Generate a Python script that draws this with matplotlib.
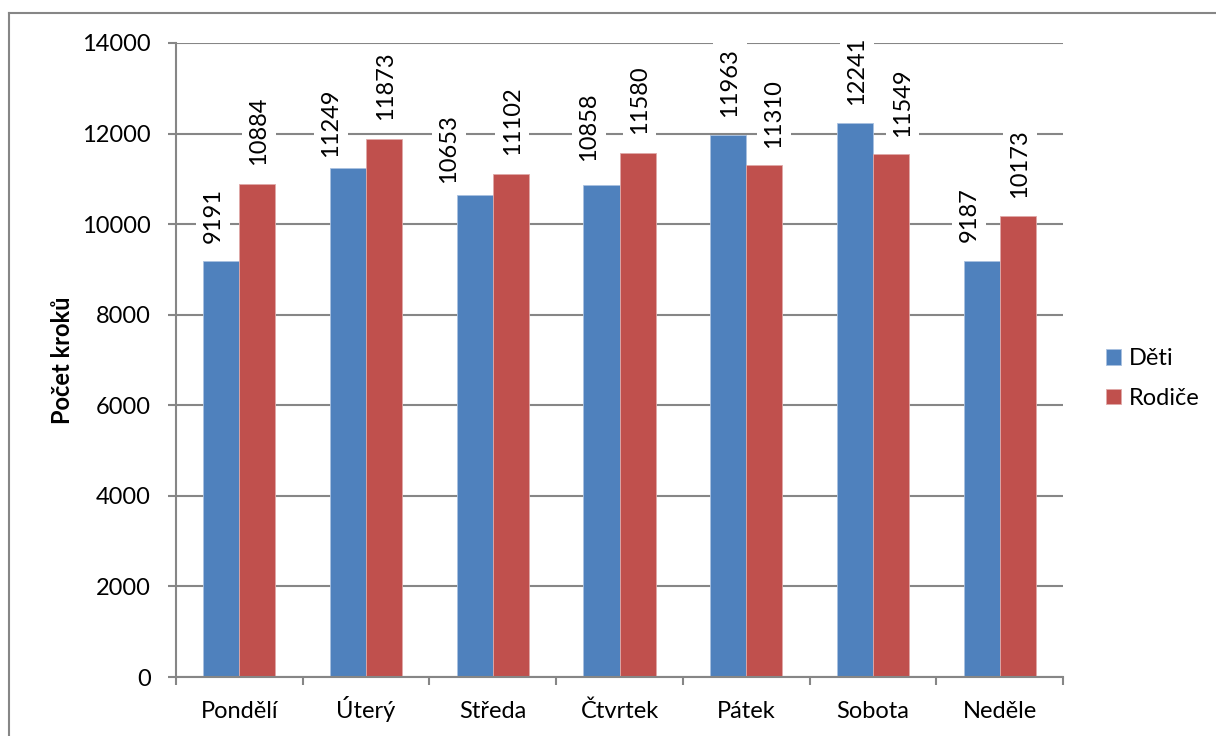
import matplotlib
matplotlib.use("Agg")
import matplotlib.pyplot as plt
from matplotlib.lines import Line2D
import matplotlib.transforms as mtransforms
import numpy as np

days = ["Pondělí", "Úterý", "Středa", "Čtvrtek", "Pátek", "Sobota", "Neděle"]
deti = [9191, 11249, 10653, 10858, 11963, 12241, 9187]
rodice = [10884, 11873, 11102, 11580, 11310, 11549, 10173]
series_names = ["Děti", "Rodiče"]
y_ticks = [0, 2000, 4000, 6000, 8000, 10000, 12000, 14000]

# label placement tweaks (pixels): (dx, gap above bar)
deti_lbl_off = [(-8.5, 18), (-17, 11), (-26, 12), (-12.5, 24), (1.5, 18), (2, 18), (-12.5, 19)]
rodice_lbl_off = [(1.5, 19), (1, 19), (1.5, 19), (2, 19), (9.5, 17), (11.5, 17), (2, 18)]

plt.rcParams['font.family'] = ['Lato', 'DejaVu Sans']
FS = 17

W, H = 1216, 736
fig = plt.figure(figsize=(W/100, H/100), dpi=100)
ax = fig.add_axes([176/W, 1-677/H, (1063-176)/W, (677-43)/H])

gray = '#868686'
blue = '#4F81BD'
red = '#C0504D'

x = np.arange(len(days))
bw = 0.285
b1 = ax.bar(x - bw/2, deti, bw, color=blue, zorder=2, edgecolor='#a9c1e0', linewidth=0.6, label=series_names[0])
b2 = ax.bar(x + bw/2, rodice, bw, color=red, zorder=2, edgecolor='#e0a9a8', linewidth=0.6, label=series_names[1])

for bars, vals, offs in ((b1, deti, deti_lbl_off), (b2, rodice, rodice_lbl_off)):
    for rect, v, (dx, gap) in zip(bars, vals, offs):
        ax.annotate(str(v), (rect.get_x() + rect.get_width()/2, v),
                    xytext=(dx, gap), textcoords='offset pixels',
                    rotation=90, ha='center', va='bottom', fontsize=FS,
                    zorder=3, annotation_clip=False,
                    bbox=dict(boxstyle='square,pad=0.27', fc='white', ec='none'))

ax.set_xlim(-0.5, len(days) - 0.5)
ax.set_ylim(0, 14000)
ax.set_yticks(y_ticks)
ax.set_yticklabels([str(t) for t in y_ticks], fontsize=FS)
ax.yaxis.grid(True, color=gray, linewidth=1.5, zorder=0.5)
ax.set_axisbelow(True)

ax.set_xticks(x)
ax.set_xticklabels([])
ax.set_xticks(np.arange(len(days) + 1) - 0.5, minor=True)
ax.tick_params(axis='x', which='major', length=0)
ax.tick_params(axis='x', which='minor', length=6, width=1.5, color=gray, direction='out')
ax.tick_params(axis='y', length=6, width=1.5, color=gray, direction='out', pad=12)

# category labels on a common baseline
trans = mtransforms.blended_transform_factory(ax.transData, fig.transFigure)
for xi, d in zip(x, days):
    ax.text(xi, 1 - 718/H, d, transform=trans, ha='center', va='baseline', fontsize=FS)

for s in ('top', 'right'):
    ax.spines[s].set_visible(False)
for s in ('left', 'bottom'):
    ax.spines[s].set_color(gray)
    ax.spines[s].set_linewidth(1.5)

fig.text(62/W, 1-360/H, "Počet kroků", rotation=90, ha='center', va='center',
         fontsize=FS, fontweight='bold')

leg = fig.legend(handles=[b1, b2], labels=series_names, loc='center left',
                 bbox_to_anchor=(1106/W, 1-378.5/H), frameon=False, fontsize=FS,
                 borderpad=0, borderaxespad=0,
                 handlelength=0.64, handleheight=0.64, handletextpad=0.34, labelspacing=0.8)

# figure border (left and top visible)
fig.add_artist(Line2D([9/W, 9/W], [0, 1-13/H], color=gray, linewidth=1.5, transform=fig.transFigure))
fig.add_artist(Line2D([9/W, 1], [1-13/H, 1-13/H], color=gray, linewidth=1.5, transform=fig.transFigure))

fig.savefig("out.png", dpi=100)
